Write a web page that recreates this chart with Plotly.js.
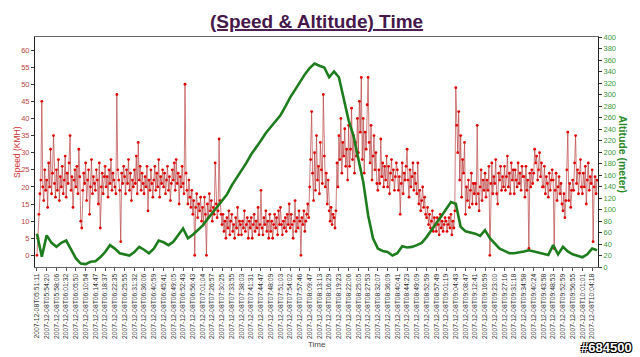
<!DOCTYPE html>
<html>
<head>
<meta charset="utf-8">
<script src="https://cdn.plot.ly/plotly-3.0.1.min.js"></script>
<style>html,body{margin:0;padding:0;background:#fff;}#chart{width:640px;height:357px;}</style>
</head>
<body>
<div id="chart"></div>
<script>
// Tick labels (one per labelled sample)
const tickTimes = ["05:51:11","05:54:20","05:58:06","06:01:32","06:05:50","06:10:54","06:14:47","06:18:37","06:22:35","06:25:55","06:31:32","06:36:06","06:40:59","06:45:41","06:49:05","06:52:43","06:56:43","07:01:04","07:26:57","07:30:25","07:33:55","07:38:03","07:41:31","07:44:47","07:48:09","07:51:03","07:54:02","07:57:46","08:09:47","08:13:13","08:16:29","08:19:23","08:22:06","08:25:05","08:27:53","08:32:07","08:36:09","08:40:41","08:44:23","08:49:09","08:52:59","08:57:49","09:01:19","09:04:43","09:08:47","09:12:41","09:16:59","09:23:00","09:27:16","09:31:18","09:34:58","09:40:24","09:43:58","09:48:53","09:52:59","09:56:55","10:01:01","10:04:18"];
const datePrefix = "2007-12-08T";

// Speed (KMH), 10 samples per labelled interval
const speed = [
 0,5,12,18,22,45,20,16,25,19,  22,14,27,20,31,18,24,35,21,17,
 25,19,28,16,23,20,26,18,22,29,  17,24,21,27,35,19,23,14,22,25,
 20,26,18,31,23,10,8,19,24,21,  27,16,22,25,12,20,28,18,23,21,
 19,25,22,15,27,8,20,24,18,23,  26,20,23,17,25,21,28,19,24,22,
 20,18,47,25,22,19,4,24,21,26,  23,18,25,21,28,19,24,16,22,20,
 25,21,29,18,33,22,26,19,24,21,  18,23,20,26,13,22,19,25,21,17,
 22,26,19,24,20,28,17,23,21,25,  20,24,18,22,26,19,23,16,21,25,
 22,27,19,28,21,24,15,23,20,26,  21,18,50,24,19,15,22,17,14,19,
 12,16,0,14,18,11,15,13,17,10,  14,9,17,12,0,15,11,18,13,16,
 10,14,12,27,15,11,13,34,16,12,  9,12,7,10,5,11,8,13,6,10,
 12,7,9,5,11,8,14,6,10,9,  6,10,8,13,7,9,11,5,10,8,
 11,5,9,12,7,10,8,14,6,9,  19,8,6,11,9,13,7,10,5,12,
 7,10,5,9,12,8,11,6,13,9,  14,9,6,10,8,11,7,12,9,15,
 8,12,9,5,10,16,7,11,8,13,  10,0,11,9,13,7,10,12,15,11,
 20,28,42,24,16,30,19,35,22,26,  18,33,25,21,47,29,20,24,15,22,
 13,10,14,9,12,11,8,13,27,20,  35,28,40,24,33,29,37,26,31,22,
 38,26,31,43,28,35,24,33,29,40,  30,45,36,52,28,40,24,36,31,44,
 52,33,27,38,22,29,35,25,30,21,  19,25,21,34,23,27,20,26,22,29,
 20,26,18,24,28,22,25,19,23,27,  25,19,23,12,21,27,18,24,22,26,
 31,22,17,25,20,23,27,19,24,21,  18,27,15,19,13,16,20,14,17,12,
 11,14,9,12,8,10,13,7,11,9,  7,11,9,6,12,8,10,7,9,11,
 10,7,9,11,8,12,6,10,8,13,  49,38,30,42,22,35,17,28,24,33,
 12,20,16,22,14,19,24,15,21,18,  21,15,38,18,13,20,25,16,22,19,
 24,17,22,19,26,0,21,27,18,23,  21,28,18,15,24,22,26,19,23,20,
 26,19,23,29,20,24,18,27,22,25,  18,25,22,20,27,21,24,19,26,23,
 23,17,26,19,22,2,24,20,25,21,  24,31,27,29,22,25,30,23,27,20,
 20,26,18,23,21,17,24,19,22,25,  22,2,19,24,16,20,23,18,21,15,
 13,18,11,16,25,36,16,21,14,19,  22,19,27,35,21,25,18,24,28,20,
 18,24,20,26,15,22,27,19,23,21,  25,4,20,23,18,22
];
const SPEED_PER_TICK = 10;

// Altitude (meter), 2 samples per labelled interval
const altitude = [
 58,18,55,42,35,42,46,30,15,6,5,9,10,17,26,38,32,24,22,20,
 26,35,30,24,32,46,43,38,44,56,67,50,56,64,72,83,94,105,115,126,
 142,155,166,181,196,207,220,233,243,253,264,279,295,308,322,335,346,354,350,347,
 330,340,330,295,255,228,190,148,90,50,32,28,26,20,24,36,34,35,38,42,
 52,63,76,88,100,113,110,70,62,60,58,54,64,50,40,32,28,24,24,25,
 27,29,27,25,23,21,38,22,35,27,22,19,17,22,32,29
];
const ALT_PER_TICK = 2;

const xSpeed = speed.map((_, i) => i / SPEED_PER_TICK);
const xAlt = altitude.map((_, i) => i / ALT_PER_TICK);
const tickVals = tickTimes.map((_, i) => i);
const tickText = tickTimes.map(t => datePrefix + t);

const traces = [
 {x: xSpeed, y: speed, type: 'scatter', mode: 'lines+markers', yaxis: 'y',
  line: {color: 'rgba(185,70,70,0.7)', width: 1},
  marker: {color: '#e00000', size: 2.8}, hoverinfo: 'none', showlegend: false},
 {x: xAlt, y: altitude, type: 'scatter', mode: 'lines', yaxis: 'y2',
  line: {color: '#1d7d1d', width: 2.6}, hoverinfo: 'none', showlegend: false}
];

const layout = {
 width: 640, height: 357,
 margin: {l: 35, r: 42, t: 37, b: 90},
 paper_bgcolor: '#fff', plot_bgcolor: '#fff',
 font: {family: 'Liberation Sans, Arial, sans-serif'},
 title: {text: '<u>(Speed & Altitude) Time</u>', x: 0.5, xref: 'paper', y: 0.94, yref: 'container', yanchor: 'middle',
   font: {size: 19, color: '#45174b', weight: 'bold', family: 'Liberation Sans, Arial, sans-serif'}},
 xaxis: {range: [-0.2, 57.6], tickmode: 'array', tickvals: tickVals, ticktext: tickText, tickangle: -90,
   tickfont: {size: 6.8, color: '#333'}, showgrid: false, zeroline: false, showline: true, mirror: true,
   linecolor: '#666', linewidth: 1, ticks: 'outside', ticklen: 3, tickcolor: '#555', automargin: false},
 yaxis: {range: [-3.4, 63.8], tick0: 0, dtick: 5, tickfont: {size: 7.5, color: '#b84545'},
   showgrid: false, zeroline: false, showline: true, linecolor: '#222', linewidth: 1,
   ticks: 'outside', ticklen: 3, tickcolor: '#333', automargin: false},
 yaxis2: {range: [0, 400], tick0: 0, dtick: 20, overlaying: 'y', side: 'right',
   tickfont: {size: 7.5, color: '#3a9a3a'}, showgrid: false, zeroline: false, showline: true,
   linecolor: '#222', linewidth: 1, ticks: 'outside', ticklen: 3, tickcolor: '#333', automargin: false},
 annotations: [
  {text: 'Speed (KMH)', xref: 'paper', yref: 'paper', x: -0.032, y: 0.5, xanchor: 'center', yanchor: 'middle',
   textangle: -90, showarrow: false, font: {size: 8.5, color: '#cc3333'}},
  {text: '<b>Altitude (meter)</b>', xref: 'paper', yref: 'paper', x: 1.044, y: 0.49, xanchor: 'center', yanchor: 'middle',
   textangle: 90, showarrow: false, font: {size: 10.5, color: '#2a8a2a'}},
  {text: 'Time', xref: 'paper', yref: 'paper', x: 0.5, y: -0.335, xanchor: 'center', yanchor: 'middle', showarrow: false,
   font: {size: 8, color: '#444'}},
  {text: '<b>#684500</b>', xref: 'paper', yref: 'paper', x: 1.064, y: -0.352, xanchor: 'right', yanchor: 'middle', showarrow: false,
   font: {size: 13, color: '#ffffff', shadow: '1px 1px 0 #000, -1px -1px 0 #000, 1px -1px 0 #000, -1px 1px 0 #000'}}
 ]
};

Plotly.newPlot('chart', traces, layout, {staticPlot: true, displayModeBar: false});
</script>
</body>
</html>
